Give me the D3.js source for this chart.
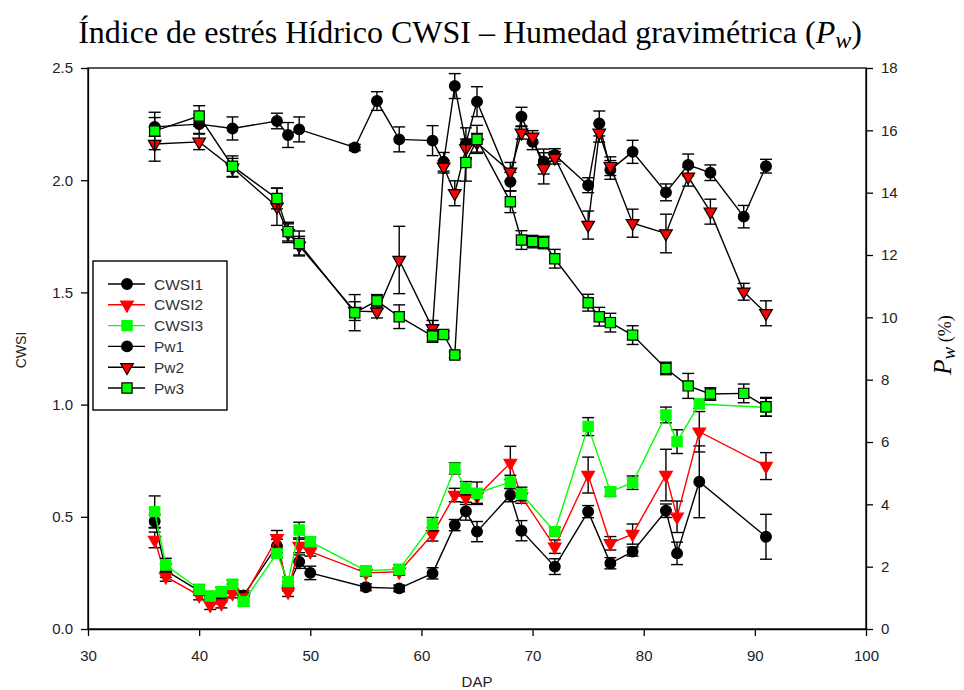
<!DOCTYPE html>
<html>
<head>
<meta charset="utf-8">
<script src="https://cdn.jsdelivr.net/npm/d3@7"></script>
<style>
    body { margin: 0; background: #fff; }
    .axis text { font-family: 'Liberation Sans', Arial, sans-serif; font-size: 15px; fill: #222; }
    .axis path, .axis line { stroke: #000; stroke-width: 1.3; }
</style>
</head>
<body>
<div id="vis"></div>
<script>
// Tick values
var xTicks = [30, 40, 50, 60, 70, 80, 90, 100];
var cwsiTicks = [0, 0.5, 1.0, 1.5, 2.0, 2.5];
var pwTicks = [0, 2, 4, 6, 8, 10, 12, 14, 16, 18];

// CWSI series (left axis)
var dapCwsi = [36, 37, 40, 41, 42, 43, 44, 47, 48, 49, 50, 55, 58, 61, 63, 64, 65, 68, 69, 72, 75, 77, 79, 82, 83, 85, 91];
var cwsi1 = [0.48, 0.26, 0.17, 0.14, 0.14, 0.18, 0.15, 0.37, 0.19, 0.30, 0.25, 0.186, 0.181, 0.248, 0.463, 0.525, 0.434, 0.597, 0.438, 0.278, 0.523, 0.293, 0.345, 0.527, 0.337, 0.656, 0.411];
var cwsi1Err = [0.03, 0.03, 0.02, 0.02, 0.02, 0.02, 0.02, 0.03, 0.02, 0.03, 0.03, 0.015, 0.015, 0.025, 0.025, 0.04, 0.045, 0.03, 0.045, 0.035, 0.027, 0.025, 0.02, 0.03, 0.05, 0.16, 0.1];
var cwsi2 = [0.397, 0.233, 0.15, 0.107, 0.114, 0.159, 0.14, 0.404, 0.165, 0.37, 0.345, 0.25, 0.255, 0.422, 0.597, 0.585, 0.59, 0.74, 0.59, 0.367, 0.686, 0.382, 0.423, 0.686, 0.5, 0.879, 0.726];
var cwsi2Err = [0.035, 0.02, 0.02, 0.02, 0.02, 0.02, 0.02, 0.035, 0.02, 0.03, 0.02, 0.015, 0.015, 0.03, 0.03, 0.03, 0.03, 0.074, 0.03, 0.03, 0.08, 0.03, 0.045, 0.115, 0.07, 0.09, 0.06];
var cwsi3 = [0.523, 0.285, 0.177, 0.147, 0.166, 0.199, 0.122, 0.337, 0.211, 0.441, 0.389, 0.26, 0.266, 0.467, 0.716, 0.627, 0.605, 0.655, 0.602, 0.434, 0.902, 0.612, 0.652, 0.954, 0.835, 1.003, 0.988];
var cwsi3Err = [0.07, 0.03, 0.02, 0.02, 0.02, 0.02, 0.02, 0.02, 0.02, 0.035, 0.02, 0.02, 0.02, 0.03, 0.025, 0.03, 0.05, 0.03, 0.03, 0.02, 0.04, 0.02, 0.03, 0.035, 0.053, 0.02, 0.04];

// Gravimetric moisture series (right axis, %)
var dapPw = [36, 40, 43, 47, 48, 49, 54, 56, 58, 61, 62, 63, 64, 65, 68, 69, 70, 71, 72, 75, 76, 77, 79, 82, 84, 86, 89, 91];
var pw1 = [16.11, 16.2, 16.06, 16.3, 15.85, 16.03, 15.45, 16.94, 15.71, 15.67, 14.99, 17.42, 15.58, 16.92, 14.35, 16.44, 15.63, 15.0, 15.21, 14.24, 16.22, 14.73, 15.31, 14.01, 14.89, 14.64, 13.23, 14.85];
var pw1Err = [0.3, 0.3, 0.37, 0.25, 0.4, 0.4, 0.1, 0.3, 0.4, 0.48, 0.3, 0.4, 0.5, 0.48, 0.3, 0.3, 0.25, 0.4, 0.2, 0.24, 0.4, 0.3, 0.37, 0.27, 0.35, 0.25, 0.36, 0.22];
var pw2 = [15.56, 15.63, 14.8, 13.55, 12.7, 12.3, 10.2, 10.18, 11.84, 9.65, 14.83, 13.98, 15.42, 15.6, 14.67, 15.92, 15.79, 14.78, 15.12, 12.96, 15.92, 14.85, 13.02, 12.69, 14.51, 13.39, 10.82, 10.13];
var pw2Err = [0.55, 0.25, 0.3, 0.6, 0.3, 0.3, 0.3, 0.2, 1.08, 0.25, 0.2, 0.4, 0.3, 0.3, 0.3, 0.2, 0.2, 0.5, 0.2, 0.45, 0.3, 0.3, 0.45, 0.62, 0.3, 0.4, 0.27, 0.4];
var pw3 = [15.98, 16.46, 14.85, 13.81, 12.75, 12.37, 10.15, 10.53, 10.02, 9.4, 9.45, 8.79, 14.97, 15.71, 13.71, 12.48, 12.43, 12.4, 11.88, 10.47, 10.02, 9.83, 9.43, 8.36, 7.8, 7.54, 7.56, 7.13];
var pw3Err = [0.6, 0.33, 0.33, 0.33, 0.3, 0.4, 0.58, 0.2, 0.38, 0.2, 0.1, 0.1, 0.6, 0.45, 0.35, 0.3, 0.2, 0.2, 0.3, 0.27, 0.3, 0.3, 0.3, 0.2, 0.4, 0.2, 0.3, 0.3];

var legendNames = ['CWSI1', 'CWSI2', 'CWSI3', 'Pw1', 'Pw2', 'Pw3'];

// Plot area
var margin = { left: 88, right: 98, top: 68, bottom: 61 };
var width = 964, height = 690;
var drawWidth = width - margin.left - margin.right;
var drawHeight = height - margin.top - margin.bottom;

var svg = d3.select('#vis').append('svg')
    .attr('width', width)
    .attr('height', height);

var g = svg.append('g')
    .attr('transform', 'translate(' + margin.left + ',' + margin.top + ')');

// Scales
var xScale = d3.scaleLinear().domain([30, 100]).range([0, drawWidth]);
var yLeft = d3.scaleLinear().domain([0, 2.5]).range([drawHeight, 0]);
var yRight = d3.scaleLinear().domain([0, 18]).range([drawHeight, 0]);

// Frame
g.append('rect')
    .attr('width', drawWidth)
    .attr('height', drawHeight)
    .attr('fill', 'none')
    .attr('stroke', '#000')
    .attr('stroke-width', 1.3);

// Axes
g.append('g').attr('class', 'axis')
    .attr('transform', 'translate(0,' + drawHeight + ')')
    .call(d3.axisBottom(xScale).tickValues(xTicks).tickSize(7).tickPadding(14).tickSizeOuter(0));
g.append('g').attr('class', 'axis')
    .call(d3.axisLeft(yLeft).tickValues(cwsiTicks).tickFormat(d3.format('.1f')).tickSize(7).tickPadding(8).tickSizeOuter(0));
g.append('g').attr('class', 'axis')
    .attr('transform', 'translate(' + drawWidth + ',0)')
    .call(d3.axisRight(yRight).tickValues(pwTicks).tickSize(7).tickPadding(8).tickSizeOuter(0));

// Shapes
var circle = d3.symbol().type(d3.symbolCircle).size(90);
var square = d3.symbol().type(d3.symbolSquare).size(105);
var triangle = d3.symbol().type(d3.symbolTriangle).size(70);

var series = [
    { x: dapCwsi, y: cwsi1, err: cwsi1Err, scale: yLeft, line: '#000', fill: '#000', outline: '#000', shape: circle, rot: 0 },
    { x: dapCwsi, y: cwsi2, err: cwsi2Err, scale: yLeft, line: '#ff0000', fill: '#ff0000', outline: '#ff0000', shape: triangle, rot: 180 },
    { x: dapCwsi, y: cwsi3, err: cwsi3Err, scale: yLeft, line: '#00ff00', fill: '#00ff00', outline: '#00ff00', shape: square, rot: 0 },
    { x: dapPw, y: pw1, err: pw1Err, scale: yRight, line: '#000', fill: '#000', outline: '#000', shape: circle, rot: 0 },
    { x: dapPw, y: pw2, err: pw2Err, scale: yRight, line: '#000', fill: '#ff0000', outline: '#000', shape: triangle, rot: 180 },
    { x: dapPw, y: pw3, err: pw3Err, scale: yRight, line: '#000', fill: '#00ff00', outline: '#000', shape: square, rot: 0 }
];

series.forEach(function(s) {
    var pts = s.x.map(function(d, i) { return { x: d, y: s.y[i], e: s.err[i] }; });
    var sg = g.append('g');

    // error bars
    var eb = sg.selectAll('.eb').data(pts).enter().append('g')
        .attr('stroke', '#000').attr('stroke-width', 1.4);
    eb.append('line')
        .attr('x1', function(d) { return xScale(d.x); })
        .attr('x2', function(d) { return xScale(d.x); })
        .attr('y1', function(d) { return s.scale(d.y - d.e); })
        .attr('y2', function(d) { return s.scale(d.y + d.e); });
    [-1, 1].forEach(function(sign) {
        eb.append('line')
            .attr('x1', function(d) { return xScale(d.x) - 6; })
            .attr('x2', function(d) { return xScale(d.x) + 6; })
            .attr('y1', function(d) { return s.scale(d.y + sign * d.e); })
            .attr('y2', function(d) { return s.scale(d.y + sign * d.e); });
    });

    // line
    sg.append('path')
        .datum(pts)
        .attr('fill', 'none')
        .attr('stroke', s.line)
        .attr('stroke-width', 1.4)
        .attr('d', d3.line().x(function(d) { return xScale(d.x); }).y(function(d) { return s.scale(d.y); }));

    // markers
    sg.selectAll('.m').data(pts).enter().append('path')
        .attr('d', s.shape)
        .attr('transform', function(d) {
            return 'translate(' + xScale(d.x) + ',' + s.scale(d.y) + ') rotate(' + s.rot + ')';
        })
        .attr('fill', s.fill)
        .attr('stroke', s.outline)
        .attr('stroke-width', 1.2);
});

// Legend
var legend = svg.append('g');
legend.append('rect')
    .attr('x', 93).attr('y', 261)
    .attr('width', 134).attr('height', 149)
    .attr('fill', '#fff')
    .attr('stroke', '#000')
    .attr('stroke-width', 1.4);

series.forEach(function(s, i) {
    var ly = 284 + i * 20.8;
    legend.append('line')
        .attr('x1', 108).attr('x2', 145)
        .attr('y1', ly).attr('y2', ly)
        .attr('stroke', s.line).attr('stroke-width', 1.4);
    legend.append('path')
        .attr('d', s.shape)
        .attr('transform', 'translate(127,' + ly + ') rotate(' + s.rot + ')')
        .attr('fill', s.fill)
        .attr('stroke', s.outline)
        .attr('stroke-width', 1.2);
    legend.append('text')
        .attr('x', 154).attr('y', ly + 5.5)
        .style('font-family', "'Liberation Sans', Arial, sans-serif")
        .style('font-size', '15.5px')
        .style('fill', '#333')
        .text(legendNames[i]);
});

// Axis titles
svg.append('text')
    .attr('x', margin.left + drawWidth / 2).attr('y', 687)
    .attr('text-anchor', 'middle')
    .style('font-family', "'Liberation Sans', Arial, sans-serif")
    .style('font-size', '15px').style('fill', '#222')
    .text('DAP');

svg.append('text')
    .attr('transform', 'translate(26,350) rotate(-90)')
    .attr('text-anchor', 'middle')
    .style('font-family', "'Liberation Sans', Arial, sans-serif")
    .style('font-size', '14px').style('fill', '#222')
    .text('CWSI');

var rightTitle = svg.append('text')
    .attr('transform', 'translate(951,345) rotate(-90)')
    .attr('text-anchor', 'middle')
    .style('font-family', "'Liberation Serif', 'Times New Roman', serif")
    .style('fill', '#000');
rightTitle.append('tspan').style('font-style', 'italic').style('font-size', '25px').text('P');
rightTitle.append('tspan').style('font-style', 'italic').style('font-size', '19px').attr('dy', 4).text('w');
rightTitle.append('tspan').style('font-size', '18px').attr('dy', -4).text(' (%)');

// Chart title
var title = svg.append('text')
    .attr('x', 470).attr('y', 43)
    .attr('text-anchor', 'middle')
    .style('font-family', "'Liberation Serif', 'Times New Roman', serif")
    .style('font-size', '32px')
    .style('fill', '#000');
title.append('tspan').text('Índice de estrés Hídrico CWSI – Humedad gravimétrica (');
title.append('tspan').style('font-style', 'italic').text('P');
title.append('tspan').style('font-style', 'italic').style('font-size', '24px').attr('dy', 5).text('w');
title.append('tspan').attr('dy', -5).text(')');
</script>
</body>
</html>
